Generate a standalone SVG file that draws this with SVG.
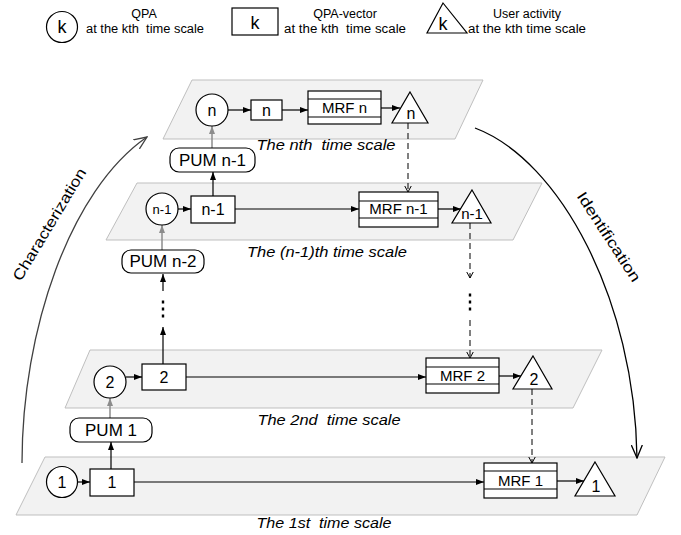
<svg xmlns="http://www.w3.org/2000/svg" width="681" height="535" viewBox="0 0 681 535">
<style>
text{font-family:"Liberation Sans",Arial,sans-serif;fill:#000;text-anchor:middle}
.plane{fill:#f2f2f2;stroke:#bfbfbf;stroke-width:1}
.nd{fill:#fff;stroke:#000;stroke-width:1.2}
.ln{fill:none;stroke:#000;stroke-width:1.2}
.gl{fill:none;stroke:#8c8c8c;stroke-width:1.5}
.dl{fill:none;stroke:#000;stroke-width:1;stroke-dasharray:6,4}
.lab{font-style:italic;font-size:15px}
.lg{font-size:12.5px}
.n15{font-size:15px}
</style>
<defs>
<marker id="a" viewBox="0 0 8 6" refX="8" refY="3" markerWidth="8" markerHeight="6" markerUnits="userSpaceOnUse" orient="auto"><path d="M0,0 L8,3 L0,6 z" fill="#000"/></marker>
<marker id="g" viewBox="0 0 8 6" refX="8" refY="3" markerWidth="8" markerHeight="6" markerUnits="userSpaceOnUse" orient="auto"><path d="M0,0 L8,3 L0,6 z" fill="#8c8c8c"/></marker>
<marker id="v" viewBox="0 0 7 8" refX="6.5" refY="4" markerWidth="7" markerHeight="8" markerUnits="userSpaceOnUse" orient="auto"><path d="M0,0.5 L6.5,4 L0,7.5" fill="none" stroke="#000" stroke-width="1"/></marker>
<marker id="c" viewBox="0 0 14 12" refX="13" refY="6" markerWidth="14" markerHeight="12" markerUnits="userSpaceOnUse" orient="auto"><path d="M0,0.5 L13,6 L0,11.5" fill="none" stroke="#000" stroke-width="1.3"/></marker>
<marker id="cg" viewBox="0 0 14 12" refX="13" refY="6" markerWidth="14" markerHeight="12" markerUnits="userSpaceOnUse" orient="auto"><path d="M0,0.5 L13,6 L0,11.5" fill="none" stroke="#404040" stroke-width="1.3"/></marker>
</defs>

<g id="legend">
<circle class="nd" cx="62" cy="27" r="15.5"/>
<text x="62" y="33" font-size="18">k</text>
<text class="lg" x="144" y="18">QPA</text>
<text class="lg" x="145" y="33" xml:space="preserve" textLength="118" lengthAdjust="spacingAndGlyphs">at the kth  time scale</text>
<rect class="nd" x="232" y="8" width="46" height="27"/>
<text x="255" y="29" font-size="18">k</text>
<text class="lg" x="345" y="18">QPA-vector</text>
<text class="lg" x="345" y="33" xml:space="preserve" textLength="122" lengthAdjust="spacingAndGlyphs">at the kth  time scale</text>
<polygon class="nd" points="443,3 467,33 427,33"/>
<text x="443" y="30" font-size="18">k</text>
<text class="lg" x="527" y="18">User activity</text>
<text class="lg" x="527" y="33" textLength="118" lengthAdjust="spacingAndGlyphs">at the kth time scale</text>
</g>

<g id="plane-n">
<polygon class="plane" points="192,80 483,80 455,139 163,139"/>
<text class="lab" x="326" y="150" xml:space="preserve" textLength="139" lengthAdjust="spacingAndGlyphs">The nth  time scale</text>
</g>
<g id="plane-n1">
<polygon class="plane" points="137,183 542,183 513,240 106,240"/>
<text class="lab" x="327" y="257" textLength="160" lengthAdjust="spacingAndGlyphs">The (n-1)th time scale</text>
</g>
<g id="plane-2">
<polygon class="plane" points="90,350 602,350 573,408 65,408"/>
<text class="lab" x="329" y="425" xml:space="preserve" textLength="143" lengthAdjust="spacingAndGlyphs">The 2nd  time scale</text>
</g>
<g id="plane-1">
<polygon class="plane" points="45,457 665,457 637,515 16,515"/>
<text class="lab" x="324" y="528" xml:space="preserve" textLength="135" lengthAdjust="spacingAndGlyphs">The 1st  time scale</text>
</g>

<g id="connectors">
<line class="ln" x1="228" y1="110" x2="251" y2="110" marker-end="url(#a)"/>
<line class="ln" x1="282" y1="110" x2="308" y2="110" marker-end="url(#a)"/>
<line class="ln" x1="381" y1="108" x2="400" y2="108" marker-end="url(#a)"/>
<line class="ln" x1="178" y1="209" x2="191" y2="209" marker-end="url(#a)"/>
<line class="ln" x1="235" y1="209" x2="359" y2="209" marker-end="url(#a)"/>
<line class="ln" x1="438" y1="209" x2="461" y2="209" marker-end="url(#a)"/>
<line class="ln" x1="126" y1="377" x2="142" y2="377" marker-end="url(#a)"/>
<line class="ln" x1="186" y1="377" x2="426" y2="377" marker-end="url(#a)"/>
<line class="ln" x1="499" y1="376" x2="521" y2="376" marker-end="url(#a)"/>
<line class="ln" x1="78" y1="482" x2="90" y2="482" marker-end="url(#a)"/>
<line class="ln" x1="134" y1="482" x2="484" y2="482" marker-end="url(#a)"/>
<line class="ln" x1="557" y1="481" x2="584" y2="481" marker-end="url(#a)"/>
<line class="ln" x1="213" y1="196" x2="213" y2="172" marker-end="url(#a)"/>
<line class="ln" x1="111" y1="469" x2="111" y2="442" marker-end="url(#a)"/>
<line class="ln" x1="163" y1="364" x2="163" y2="327" marker-end="url(#a)"/>
<line class="ln" x1="163" y1="291" x2="163" y2="274" marker-end="url(#a)"/>
<g fill="#000"><rect x="161.8" y="300.5" width="2.4" height="3"/><rect x="161.8" y="307.5" width="2.4" height="3"/><rect x="161.8" y="314.5" width="2.4" height="3"/></g>
<line class="gl" x1="212" y1="148" x2="212" y2="126" marker-end="url(#g)"/>
<line class="gl" x1="162" y1="250" x2="162" y2="225" marker-end="url(#g)"/>
<line class="gl" x1="110" y1="418" x2="110" y2="398" marker-end="url(#g)"/>
<line class="dl" x1="408" y1="123" x2="408" y2="192" marker-end="url(#v)"/>
<line class="dl" x1="470" y1="223" x2="470" y2="278" marker-end="url(#v)"/>
<g fill="#000"><rect x="468.8" y="293.5" width="2.4" height="3"/><rect x="468.8" y="300.5" width="2.4" height="3"/><rect x="468.8" y="307.5" width="2.4" height="3"/></g>
<line class="dl" x1="470" y1="320" x2="470" y2="358" marker-end="url(#v)"/>
<line class="dl" x1="532" y1="389" x2="532" y2="463" marker-end="url(#v)"/>
<path d="M22,463 C22,330 70,190 147,137" fill="none" stroke="#404040" stroke-width="1.3" marker-end="url(#cg)"/>
<path d="M475,128 C560,160 635,300 637,458" fill="none" stroke="#000" stroke-width="1.3" marker-end="url(#c)"/>
<text transform="translate(52,226) rotate(-59)" x="0" y="2" font-size="15" textLength="128" lengthAdjust="spacingAndGlyphs">Characterization</text>
<text transform="translate(607,238) rotate(57)" x="0" y="3" font-size="15" textLength="104" lengthAdjust="spacingAndGlyphs">Identification</text>
</g>

<g id="qpa-n"><circle class="nd" cx="212" cy="110" r="16"/><text x="212" y="116" font-size="16">n</text></g>
<g id="vec-n"><rect class="nd" x="251" y="100" width="31" height="20"/><text x="266.5" y="116" font-size="16">n</text></g>
<g id="mrf-n"><rect class="nd" x="308" y="91" width="73" height="33"/><line class="ln" x1="308" y1="99" x2="381" y2="99"/><line class="ln" x1="308" y1="117" x2="381" y2="117"/><text class="n15" x="344.5" y="113">MRF n</text></g>
<g id="ua-n"><polygon class="nd" points="410,92 428,123 392,123"/><text x="411" y="119" font-size="16">n</text></g>
<g id="pum-n1"><rect class="nd" x="170" y="148" width="85" height="24" rx="9"/><text x="212.5" y="166" font-size="17">PUM n-1</text></g>

<g id="qpa-n1"><circle class="nd" cx="162" cy="209" r="16"/><text x="162" y="214" font-size="13">n-1</text></g>
<g id="vec-n1"><rect class="nd" x="191" y="196" width="44" height="27"/><text x="213" y="215" font-size="16">n-1</text></g>
<g id="mrf-n1"><rect class="nd" x="359" y="192" width="79" height="35"/><line class="ln" x1="359" y1="201" x2="438" y2="201"/><line class="ln" x1="359" y1="218" x2="438" y2="218"/><text class="n15" x="398.5" y="214">MRF n-1</text></g>
<g id="ua-n1"><polygon class="nd" points="472,190 491,223 452,223"/><text x="472" y="219" font-size="15">n-1</text></g>
<g id="pum-n2"><rect class="nd" x="122" y="250" width="82" height="23" rx="9"/><text x="163" y="267" font-size="17">PUM n-2</text></g>

<g id="qpa-2"><circle class="nd" cx="110" cy="382" r="16"/><text x="110" y="388" font-size="16">2</text></g>
<g id="vec-2"><rect class="nd" x="142" y="364" width="44" height="26"/><text x="164" y="383" font-size="16">2</text></g>
<g id="mrf-2"><rect class="nd" x="426" y="358" width="73" height="35"/><line class="ln" x1="426" y1="367" x2="499" y2="367"/><line class="ln" x1="426" y1="384" x2="499" y2="384"/><text class="n15" x="462.5" y="381">MRF 2</text></g>
<g id="ua-2"><polygon class="nd" points="533,356 552,389 513,389"/><text x="534" y="385" font-size="16">2</text></g>
<g id="pum-1"><rect class="nd" x="70" y="418" width="82" height="24" rx="9"/><text x="111" y="436" font-size="17">PUM 1</text></g>

<g id="qpa-1"><circle class="nd" cx="62" cy="482" r="15.5"/><text x="62" y="488" font-size="16">1</text></g>
<g id="vec-1"><rect class="nd" x="90" y="469" width="44" height="27"/><text x="112" y="488" font-size="16">1</text></g>
<g id="mrf-1"><rect class="nd" x="484" y="463" width="73" height="35"/><line class="ln" x1="484" y1="471" x2="557" y2="471"/><line class="ln" x1="484" y1="489" x2="557" y2="489"/><text class="n15" x="520.5" y="486">MRF 1</text></g>
<g id="ua-1"><polygon class="nd" points="595,462 615,496 575,496"/><text x="596" y="492" font-size="16">1</text></g>
</svg>
